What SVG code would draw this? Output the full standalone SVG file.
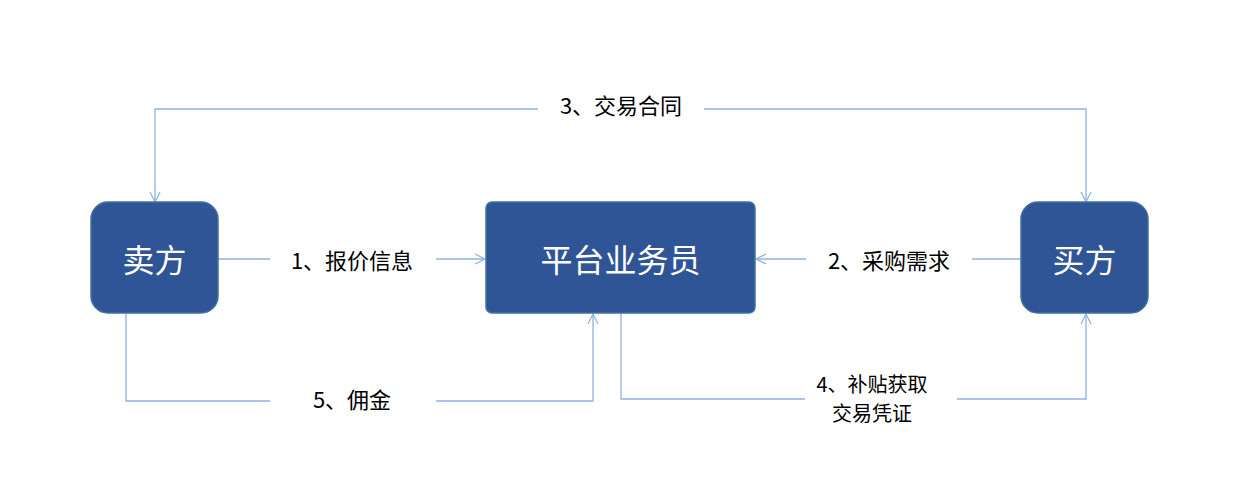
<svg xmlns="http://www.w3.org/2000/svg" width="1259" height="485" viewBox="0 0 1259 485">
<style>
.node{fill:#2F5597;stroke:#41719C;stroke-width:1.5}
.nt{fill:#fff;font-family:"Microsoft YaHei","Noto Sans CJK SC",sans-serif;font-size:32px;text-anchor:middle;dominant-baseline:central}
.ln{fill:none;stroke:#8DB3E2;stroke-width:1.3}
.lb{fill:#000;font-family:"Noto Sans CJK SC",sans-serif;font-size:22px;text-anchor:middle;dominant-baseline:central}
.lb2{font-size:20px}
</style>
<defs>
<marker id="arr" viewBox="0 0 12 12" refX="11" refY="6" markerWidth="12" markerHeight="12" markerUnits="userSpaceOnUse" orient="auto">
<path d="M1,1 L11,6 L1,11" fill="none" stroke="#8DB3E2" stroke-width="1.2"/>
</marker>
</defs>
<rect width="1259" height="485" fill="#fff"/>
<g id="connectors">
<path class="ln" d="M218,259 H270"/>
<path class="ln" d="M436,259 H485" marker-end="url(#arr)"/>
<path class="ln" d="M1021,259 H972"/>
<path class="ln" d="M806,259 H756" marker-end="url(#arr)"/>
<path class="ln" d="M538,109 H155 V202" marker-end="url(#arr)"/>
<path class="ln" d="M704,109 H1086 V202" marker-end="url(#arr)"/>
<path class="ln" d="M126,313 V401 H270"/>
<path class="ln" d="M436,401 H593 V314" marker-end="url(#arr)"/>
<path class="ln" d="M621,313 V399 H805"/>
<path class="ln" d="M957,399 H1086 V314" marker-end="url(#arr)"/>
<text class="lb" x="352" y="259">1、报价信息</text>
<text class="lb" x="889" y="259">2、采购需求</text>
<text class="lb" x="621" y="104">3、交易合同</text>
<text class="lb" x="352" y="398">5、佣金</text>
<text class="lb lb2" x="872" y="383">4、补贴获取</text>
<text class="lb lb2" x="872" y="412">交易凭证</text>
</g>
<g id="seller">
<rect class="node" x="91" y="202" width="127" height="111" rx="17"/>
<text class="nt" x="154.5" y="258">卖方</text>
</g>
<g id="platform">
<rect class="node" x="486" y="202" width="269" height="111" rx="6"/>
<text class="nt" x="620.5" y="258">平台业务员</text>
</g>
<g id="buyer">
<rect class="node" x="1021" y="202" width="127" height="111" rx="17"/>
<text class="nt" x="1084.5" y="258">买方</text>
</g>
</svg>
